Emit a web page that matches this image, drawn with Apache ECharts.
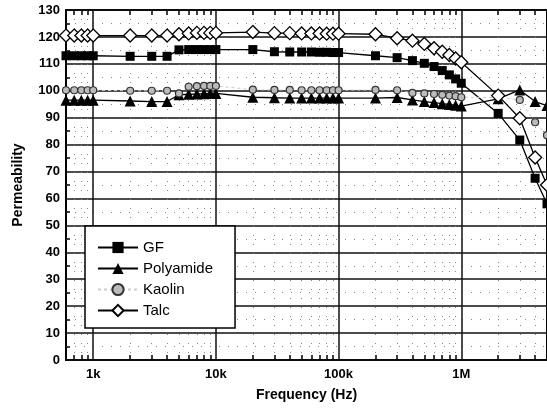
<!DOCTYPE html>
<html>
<head>
<meta charset="utf-8">
<script src="https://cdn.jsdelivr.net/npm/echarts@6/dist/echarts.min.js"></script>
<style>
  html, body { margin: 0; padding: 0; background: #fff; }
  #chart { width: 547px; height: 414px; }
</style>
</head>
<body>
<div id="chart"></div>
<script>
// frequencies (Hz)
const freqs = [600, 700, 800, 900, 1000, 2000, 3000, 4000,
  5000, 6000, 7000, 8000, 9000, 10000,
  20000, 30000, 40000, 50000, 60000, 70000, 80000, 90000, 100000,
  200000, 300000, 400000, 500000, 600000, 700000, 800000, 900000, 1000000,
  2000000, 3000000, 4000000, 5000000];
const gf = [113, 113, 113, 113, 113, 112.8, 112.8, 112.8,
  115.2, 115.3, 115.3, 115.3, 115.3, 115.3,
  115.3, 114.5, 114.4, 114.4, 114.4, 114.3, 114.3, 114.2, 114.2,
  113, 112.3, 111.2, 110.2, 109, 107.5, 105.9, 104.4, 102.8,
  91.6, 81.7, 67.5, 58];
const polyamide = [96.5, 96.5, 96.5, 96.5, 96.5, 96.2, 96, 96,
  98.5, 98.7, 98.8, 98.9, 99, 99,
  97.6, 97.4, 97.3, 97.3, 97.3, 97.3, 97.3, 97.3, 97.3,
  97.3, 97.5, 96.6, 96, 95.6, 95.2, 94.9, 94.6, 94.3,
  97, 100.3, 96, 94.5];
const kaolin = [100.2, 100.2, 100.2, 100.2, 100.2, 100, 100, 100,
  99, 101.5, 101.7, 101.8, 101.8, 101.8,
  100.4, 100.3, 100.3, 100.2, 100.2, 100.2, 100.2, 100.2, 100.2,
  100.3, 100.2, 99.2, 99, 98.8, 98.5, 98.2, 98, 97.6,
  97.5, 96.6, 88.3, 83.5];
const talc = [120.5, 120.5, 120.5, 120.5, 120.5, 120.5, 120.5, 120.5,
  121, 121.3, 121.5, 121.5, 121.5, 121.5,
  121.8, 121.4, 121.4, 121.3, 121.3, 121.3, 121.2, 121.2, 121.2,
  121, 119.5, 118.6, 117.4, 115.8, 114.5, 113.3, 112, 110.6,
  98.2, 89.8, 75.2, 65];

const majorTicks = [1000, 10000, 100000, 1000000];
const majorLabels = ['1k', '10k', '100k', '1M'];
const minorTicks = [700, 800, 900];
[1000, 10000, 100000, 1000000].forEach(d => {
  for (let k = 2; k <= 9; k++) minorTicks.push(k * d);
});

const pairs = ys => freqs.map((f, i) => [f, ys[i]]);
const font = 'Liberation Sans, Arial, sans-serif';

const chart = echarts.init(document.getElementById('chart'));

const xBase = {
  type: 'log',
  logBase: 10,
  min: 600,
  max: 5000000,
  gridIndex: 0
};

const option = {
  animation: false,
  grid: {
    left: 66, right: -1, top: 10, bottom: 54,
    show: true, borderColor: '#000', borderWidth: 2, backgroundColor: 'transparent'
  },
  legend: {
    data: ['GF', 'Polyamide', 'Kaolin', 'Talc'],
    orient: 'vertical',
    left: 85,
    top: 226,
    padding: [14, 22, 10, 12],
    itemWidth: 40,
    itemHeight: 14,
    itemGap: 6,
    backgroundColor: '#fff',
    borderColor: '#000',
    borderWidth: 1.5,
    borderRadius: 0,
    textStyle: { fontFamily: font, fontSize: 15, lineHeight: 15, color: '#000' }
  },
  xAxis: [
    Object.assign({}, xBase, {
      position: 'bottom',
      name: 'Frequency (Hz)',
      nameLocation: 'middle',
      nameGap: 28,
      nameTextStyle: { fontFamily: font, fontSize: 14, fontWeight: 'bold', color: '#000' },
      axisLine: { show: false },
      axisTick: { show: false, customValues: majorTicks },
      axisLabel: {
        customValues: majorTicks,
        margin: 8,
        fontFamily: font, fontSize: 13, fontWeight: 'bold', color: '#000',
        formatter: v => majorLabels[majorTicks.indexOf(Math.round(v))] || ''
      },
      splitLine: { show: true, lineStyle: { color: '#111', width: 1.5 } }
    }),
    Object.assign({}, xBase, {
      position: 'bottom',
      axisLine: { show: false },
      axisTick: { show: true, inside: true, length: 5, customValues: minorTicks,
        lineStyle: { color: '#000', width: 1.5 } },
      axisLabel: { show: false },
      splitLine: { show: true, lineStyle: { color: '#888', width: 1, type: [1, 8] } }
    }),
    Object.assign({}, xBase, {
      position: 'top',
      axisLine: { show: false },
      axisTick: { show: true, inside: true, length: 5, customValues: minorTicks,
        lineStyle: { color: '#000', width: 1.5 } },
      axisLabel: { show: false },
      splitLine: { show: false }
    })
  ],
  yAxis: {
    type: 'value',
    min: 0,
    max: 130,
    interval: 10,
    name: 'Permeability',
    nameLocation: 'middle',
    nameGap: 41,
    nameTextStyle: { fontFamily: font, fontSize: 14, fontWeight: 'bold', color: '#000' },
    axisLine: { show: false },
    axisTick: { show: false, inside: true, length: 5 },
    minorTick: { show: true, splitNumber: 2, length: 4, lineStyle: { color: '#000', width: 1.5 } },
    minorSplitLine: { show: true, lineStyle: { color: '#888', width: 1, type: [1, 8] } },
    axisLabel: { margin: 6, fontFamily: font, fontSize: 13, fontWeight: 'bold', color: '#000' },
    splitLine: { show: true, lineStyle: { color: '#111', width: 1.5 } }
  },
  series: [
    {
      name: 'GF', type: 'line', xAxisIndex: 0, data: pairs(gf),
      symbol: 'rect', symbolSize: 9,
      itemStyle: { color: '#000' },
      lineStyle: { color: '#000', width: 1.3 }
    },
    {
      name: 'Polyamide', type: 'line', xAxisIndex: 0, data: pairs(polyamide),
      symbol: 'triangle', symbolSize: 11,
      itemStyle: { color: '#000' },
      lineStyle: { color: '#000', width: 1.3 }
    },
    {
      name: 'Kaolin', type: 'line', xAxisIndex: 0, data: pairs(kaolin),
      symbol: 'circle', symbolSize: 7,
      itemStyle: { color: '#bbb', borderColor: '#333', borderWidth: 1.2 },
      lineStyle: { color: '#ccc', width: 1, type: [3, 3] }
    },
    {
      name: 'Talc', type: 'line', xAxisIndex: 0, data: pairs(talc),
      symbol: 'diamond', symbolSize: 13,
      itemStyle: { color: '#fff', borderColor: '#000', borderWidth: 1.3 },
      lineStyle: { color: '#000', width: 1.3 }
    }
  ]
};

chart.setOption(option);
</script>
</body>
</html>
